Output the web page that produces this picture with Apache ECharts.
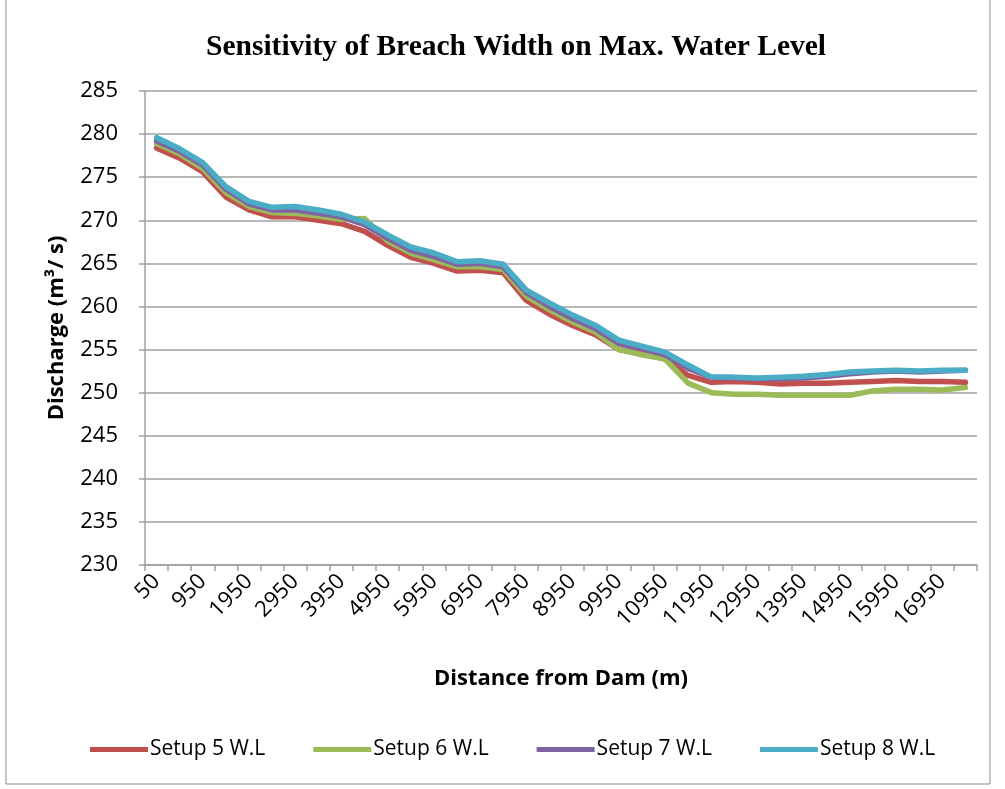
<!DOCTYPE html>
<html>
<head>
<meta charset="utf-8">
<script src="https://cdn.jsdelivr.net/npm/echarts@6/dist/echarts.min.js"></script>
<style>
  html, body { margin: 0; padding: 0; background: #fff; }
  #chart { width: 1005px; height: 789px; }
</style>
</head>
<body>
<div id="chart"></div>
<script>
// distance from dam (m), one category per cross-section
const distances = [50, 500, 950, 1450, 1950, 2450, 2950, 3450, 3950, 4450, 4950, 5450,
  5950, 6450, 6950, 7450, 7950, 8450, 8950, 9450, 9950, 10450, 10950, 11450,
  11950, 12450, 12950, 13450, 13950, 14450, 14950, 15450, 15950, 16450, 16950, 17450];

// max water level per setup
const setup5 = [278.4, 277.2, 275.6, 272.7, 271.2, 270.4, 270.4, 270.0, 269.6, 268.7, 267.1, 265.7,
  265.0, 264.1, 264.2, 263.9, 260.7, 259.1, 257.8, 256.7, 255.0, 254.6, 253.9, 252.0,
  251.2, 251.3, 251.2, 251.0, 251.1, 251.1, 251.2, 251.3, 251.4, 251.3, 251.3, 251.2];
const setup6 = [278.9, 277.7, 276.0, 273.2, 271.6, 270.9, 270.8, 270.5, 270.1, 270.2, 267.6, 266.2,
  265.4, 264.6, 264.6, 264.3, 261.2, 259.6, 258.2, 257.0, 255.0, 254.4, 253.9, 251.1,
  250.0, 249.8, 249.8, 249.7, 249.7, 249.7, 249.7, 250.2, 250.4, 250.4, 250.3, 250.6];
const setup7 = [279.2, 278.0, 276.4, 273.6, 271.9, 271.2, 271.2, 270.8, 270.4, 269.5, 267.9, 266.5,
  265.8, 264.9, 265.0, 264.6, 261.6, 260.0, 258.6, 257.4, 255.7, 255.1, 254.4, 252.8,
  251.8, 251.7, 251.6, 251.6, 251.7, 251.9, 252.2, 252.4, 252.5, 252.4, 252.5, 252.6];
const setup8 = [279.6, 278.3, 276.7, 273.9, 272.2, 271.5, 271.6, 271.2, 270.7, 269.8, 268.3, 266.9,
  266.2, 265.2, 265.3, 264.9, 261.9, 260.4, 259.0, 257.8, 256.1, 255.4, 254.7, 253.2,
  251.8, 251.8, 251.7, 251.8, 251.9, 252.1, 252.4, 252.5, 252.6, 252.5, 252.6, 252.6];

const seriesNames = ["Setup 5 W.L", "Setup 6 W.L", "Setup 7 W.L", "Setup 8 W.L"];
const seriesColors = ["#C0504D", "#9BBB59", "#8064A2", "#4BACC6"];
const seriesValues = [setup5, setup6, setup7, setup8];

const labelFont = "'Open Sans', Lato, sans-serif";
const gridColor = "#a0a0a0";

const chart = echarts.init(document.getElementById("chart"));

const option = {
  animation: false,
  backgroundColor: "#fff",
  title: {
    text: "Sensitivity of Breach Width on Max. Water Level",
    left: 201,
    top: 27,
    textStyle: {
      fontFamily: "'Liberation Serif', 'Times New Roman', serif",
      fontWeight: "bold",
      fontSize: 29.5,
      color: "#000",
    },
  },
  graphic: [
    {
      type: "rect",
      shape: { x: 6, y: -2, width: 984, height: 786 },
      style: { fill: "none", stroke: "#8c8c8c", lineWidth: 1 },
      silent: true,
    },
  ],
  grid: {
    left: 145,
    right: 28,
    top: 91,
    bottom: 224,
  },
  legend: {
    bottom: 24,
    left: 85,
    itemWidth: 58,
    itemHeight: 5,
    itemGap: 48,
    icon: "rect",
    data: seriesNames,
    textStyle: {
      fontFamily: labelFont,
      fontSize: 21,
      color: "#000",
      padding: [0, 0, 0, -3],
    },
  },
  xAxis: {
    type: "category",
    data: distances.map(String),
    boundaryGap: true,
    name: "Distance from Dam (m)",
    nameLocation: "middle",
    nameGap: 103,
    nameTextStyle: {
      fontFamily: labelFont,
      fontWeight: "bold",
      fontSize: 22,
      color: "#000",
    },
    axisLine: { lineStyle: { color: gridColor, width: 1.5 } },
    axisTick: {
      show: true,
      interval: 0,
      length: 6,
      lineStyle: { color: gridColor, width: 1.5 },
    },
    axisLabel: {
      interval: 1,
      rotate: 45,
      margin: 13,
      fontFamily: labelFont,
      fontSize: 22,
      color: "#000",
    },
    splitLine: { show: false },
  },
  yAxis: {
    type: "value",
    min: 230,
    max: 285,
    interval: 5,
    name: "Discharge (m³/ s)",
    nameLocation: "middle",
    nameRotate: 90,
    nameGap: 77,
    nameTextStyle: {
      fontFamily: labelFont,
      fontWeight: "bold",
      fontSize: 22,
      color: "#000",
    },
    axisLine: { show: true, lineStyle: { color: gridColor, width: 1.5 } },
    axisTick: { show: true, length: 6, lineStyle: { color: gridColor, width: 1.5 } },
    axisLabel: {
      margin: 27,
      fontFamily: labelFont,
      fontSize: 22,
      color: "#000",
    },
    splitLine: { show: true, lineStyle: { color: gridColor, width: 1.5 } },
  },
  series: seriesValues.map((vals, i) => ({
    name: seriesNames[i],
    type: "line",
    data: vals,
    symbol: "none",
    color: seriesColors[i],
    lineStyle: { width: 5.5, color: seriesColors[i], join: "round", cap: "round" },
    z: 2 + i,
  })),
};

chart.setOption(option);
</script>
</body>
</html>
